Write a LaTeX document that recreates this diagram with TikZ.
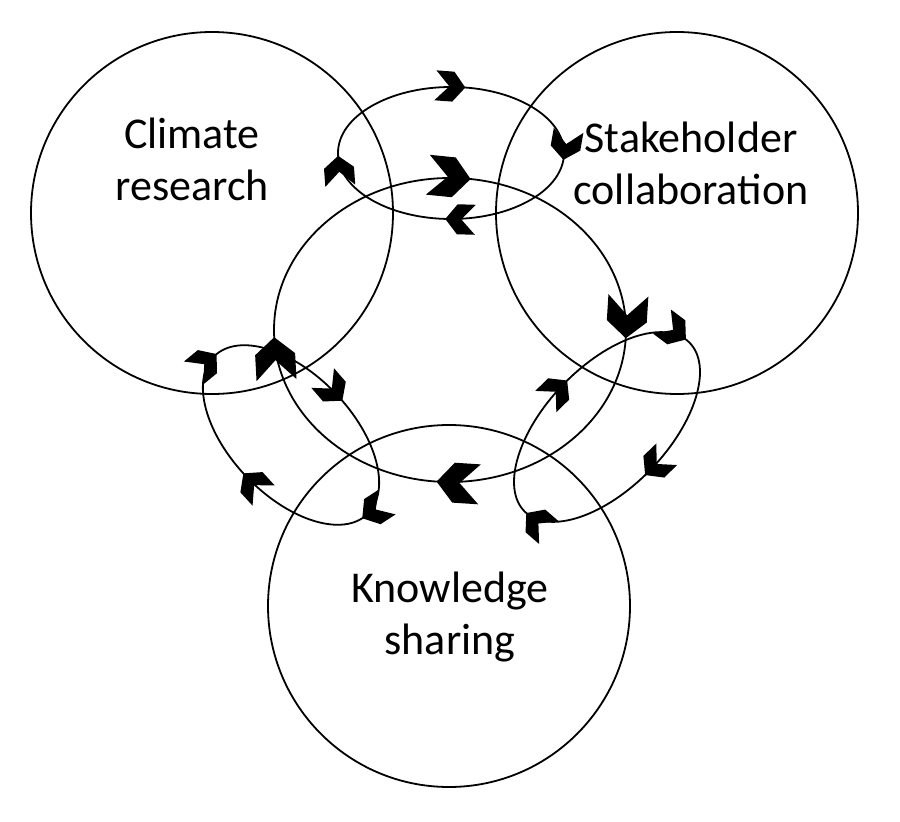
\documentclass[tikz,border=0pt]{standalone}
\usepackage{fontspec}
\setmainfont{Carlito}
\usepackage{tikz}
\usetikzlibrary{decorations.markings}
\newcommand{\chevsmall}{\fill (0,0) -- (-12,15) -- (-30,15) -- (-16,0) -- (-30,-15) -- (-12,-15) -- cycle;}
\newcommand{\chevbig}{\fill (0,0) -- (-17,20) -- (-43,20) -- (-23,0) -- (-43,-20) -- (-17,-20) -- cycle;}

\begin{document}
\begin{tikzpicture}[
		x=0.5pt, y=0.5pt,
		line width=0.9pt,
		bigcircle/.style={draw, circle, minimum size=181pt, inner sep=0pt},
		circtext/.style={align=center, inner sep=0pt, font=\fontsize{22}{26}\selectfont},
		smallarrows/.style n args={4}{postaction={decorate}, decoration={markings,
			mark=at position #1 with {\chevsmall},
			mark=at position #2 with {\chevsmall},
			mark=at position #3 with {\chevsmall},
			mark=at position #4 with {\chevsmall}}},
		bigarrows/.style n args={4}{postaction={decorate}, decoration={markings,
			mark=at position #1 with {\chevbig},
			mark=at position #2 with {\chevbig},
			mark=at position #3 with {\chevbig},
			mark=at position #4 with {\chevbig}}}]

	\useasboundingbox (0,0) rectangle (900,821);

	% the three fields
	\node[bigcircle] (climate) at (212,608) {};
	\node[bigcircle] (stakeholder) at (677,608) {};
	\node[bigcircle] (knowledge) at (449,215) {};

	\node[circtext] (climate_txt) at (192,662) {Climate\\research};
	\node[circtext] (stakeholder_txt) at (691,658) {Stakeholder\\collaboration};
	\node[circtext] (knowledge_txt) at (450,204) {Knowledge\\sharing};

	% central cycle
	\draw[bigarrows={0.02}{0.258}{0.513}{0.743}]
		(450,643) arc[start angle=90, end angle=-270, x radius=176, y radius=152];

	% small cycles between the fields
	\draw[smallarrows={0.025}{0.262}{0.51}{0.745}]
		(451,734) arc[start angle=90, end angle=-270, x radius=113, y radius=66];

	\begin{scope}[shift={(291,386)}, rotate=-46]
		\draw[smallarrows={0.02}{0.262}{0.51}{0.755}]
			(0,61) arc[start angle=90, end angle=-270, x radius=110, y radius=61];
	\end{scope}

	\begin{scope}[shift={(607,394)}, rotate=46]
		\draw[smallarrows={0.01}{0.243}{0.514}{0.747}]
			(0,61) arc[start angle=90, end angle=-270, x radius=118, y radius=61];
	\end{scope}

\end{tikzpicture}
\end{document}
